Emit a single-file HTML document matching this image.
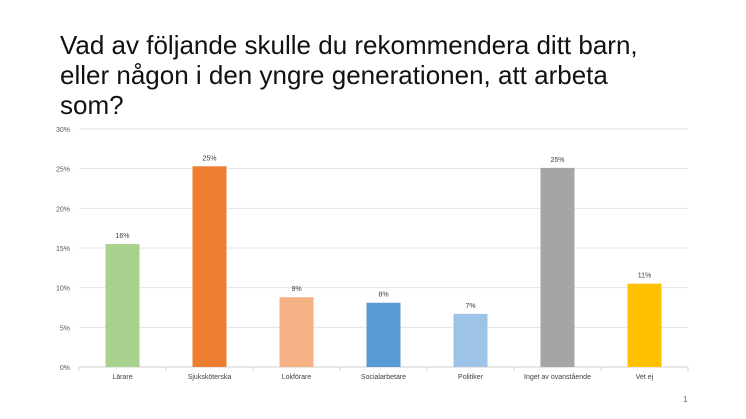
<!DOCTYPE html>
<html><head><meta charset="utf-8"><style>
body{margin:0;width:746px;height:419px;background:#fff;overflow:hidden;font-family:"Liberation Sans",sans-serif}
#title{position:absolute;left:60px;top:30px;font-size:26px;line-height:30px;color:#111;margin:0;font-weight:normal}
svg{position:absolute;left:0;top:0}
</style></head><body>
<h1 id="title">Vad av följande skulle du rekommendera ditt barn,<br>eller någon i den yngre generationen, att arbeta<br>som?</h1>
<svg width="746" height="419"></svg>
<div style="position:absolute;left:683px;top:395px;font-size:8px;color:#666">1</div>
<script>
const categories=["Lärare","Sjuksköterska","Lokförare","Socialarbetare","Politiker","Inget av ovanstående","Vet ej"];
const values=[15.5,25.3,8.8,8.1,6.7,25.1,10.5];
const valueLabels=["16%","25%","9%","8%","7%","25%","11%"];
const colors=["#a9d18e","#ed7d31","#f4b183","#5b9bd5","#9dc3e6","#a5a5a5","#ffc000"];
const yTicks=[0,5,10,15,20,25,30];
const svg=document.querySelector('svg');
const NS='http://www.w3.org/2000/svg';
const L=79,R=688,T=129,B=367,maxV=30;
const y=v=>B-(v/maxV)*(B-T);
const step=(R-L)/categories.length;
const x=i=>L+step*(i+0.5);
function mk(t,a){const e=document.createElementNS(NS,t);for(const k in a)e.setAttribute(k,a[k]);svg.appendChild(e);return e;}
yTicks.forEach(t=>{
 const g=mk('line',{x1:L,x2:R,y1:y(t),y2:y(t),stroke:t===0?'#d0d0d0':'#e4e4e4','stroke-width':1});
 
 
 const lb=mk('text',{x:70,y:y(t)+3,'text-anchor':'end','font-size':7,fill:'#595959'});
 lb.textContent=t+'%';
 
 
});
for(let i=0;i<=categories.length;i++){
 const tk=mk('line',{x1:L+step*i,x2:L+step*i,y1:B,y2:B+4,stroke:'#d0d0d0'});
 
 
}
const bw=34;
categories.forEach((c,i)=>{
 const r=mk('rect',{x:x(i)-bw/2,y:y(values[i]),width:bw,height:B-y(values[i]),fill:colors[i]});
 
 
 const v=mk('text',{x:x(i),y:y(values[i])-6,'text-anchor':'middle','font-size':7,fill:'#404040'});
 v.textContent=valueLabels[i];
 
 
 const cl=mk('text',{x:x(i),y:B+12,'text-anchor':'middle','font-size':7,fill:'#404040'});
 cl.textContent=c;
 
 
});
</script>
</body></html>
